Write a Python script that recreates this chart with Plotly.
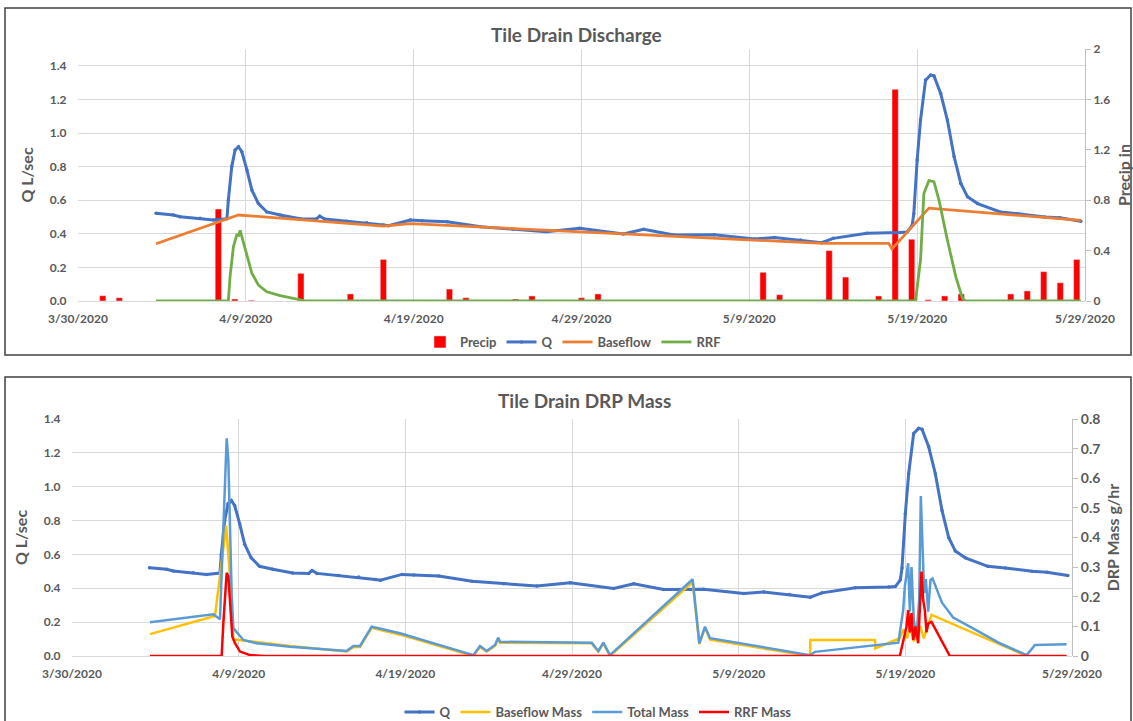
import plotly.graph_objects as go

W, H = 1133, 721

# ---------------- data ----------------
tick_dates = ["2020-03-30", "2020-04-09", "2020-04-19", "2020-04-29", "2020-05-09", "2020-05-19", "2020-05-29"]
tick_labels = ["3/30/2020", "4/9/2020", "4/19/2020", "4/29/2020", "5/9/2020", "5/19/2020", "5/29/2020"]

precip_dates = ["2020-03-31", "2020-04-01", "2020-04-07", "2020-04-08", "2020-04-09", "2020-04-12",
                "2020-04-15", "2020-04-17", "2020-04-21", "2020-04-22", "2020-04-25", "2020-04-26",
                "2020-04-29", "2020-04-30", "2020-05-10", "2020-05-11", "2020-05-14", "2020-05-15",
                "2020-05-17", "2020-05-18", "2020-05-19", "2020-05-20", "2020-05-21", "2020-05-22",
                "2020-05-25", "2020-05-26", "2020-05-27", "2020-05-28", "2020-05-29"]
precip_in = [0.042, 0.026, 0.73, 0.016, 0.006, 0.22,
             0.056, 0.33, 0.095, 0.026, 0.016, 0.04,
             0.026, 0.056, 0.228, 0.05, 0.40, 0.19,
             0.04, 1.68, 0.49, 0.01, 0.04, 0.056,
             0.056, 0.08, 0.233, 0.145, 0.33]

q_time = ["2020-04-03 15:36", "2020-04-04 16:20", "2020-04-05 02:00", "2020-04-06 06:30", "2020-04-07 01:40",
          "2020-04-07 21:00", "2020-04-07 23:00", "2020-04-08 03:50", "2020-04-08 08:40", "2020-04-08 13:30",
          "2020-04-08 18:15", "2020-04-09 01:30", "2020-04-09 08:40", "2020-04-09 18:00", "2020-04-10 06:00",
          "2020-04-11 01:12", "2020-04-12 05:46", "2020-04-13 04:48", "2020-04-13 09:36", "2020-04-13 16:48",
          "2020-04-15 00:00", "2020-04-16 04:48", "2020-04-17 04:48", "2020-04-17 12:00", "2020-04-18 19:12",
          "2020-04-19 12:00", "2020-04-21 00:00", "2020-04-23 00:00", "2020-04-24 21:36", "2020-04-26 21:36",
          "2020-04-28 21:36", "2020-05-01 12:00", "2020-05-02 16:48", "2020-05-04 12:00", "2020-05-06 21:36",
          "2020-05-09 07:12", "2020-05-10 12:00", "2020-05-12 01:12", "2020-05-13 07:12", "2020-05-14 00:00",
          "2020-05-16 00:00", "2020-05-18 00:00", "2020-05-18 09:36", "2020-05-18 16:48", "2020-05-18 19:12",
          "2020-05-19 00:00", "2020-05-19 04:48", "2020-05-19 12:00", "2020-05-19 19:12", "2020-05-20 00:00",
          "2020-05-20 09:36", "2020-05-20 19:12", "2020-05-21 04:48", "2020-05-21 14:24", "2020-05-22 00:00",
          "2020-05-22 14:24", "2020-05-23 22:48", "2020-05-25 00:00", "2020-05-26 14:24", "2020-05-27 12:00",
          "2020-05-28 18:00"]
q_lps = [0.522, 0.512, 0.502, 0.492, 0.482,
         0.49, 0.60, 0.80, 0.899, 0.918,
         0.889, 0.78, 0.66, 0.58, 0.53,
         0.512, 0.49, 0.488, 0.505, 0.488,
         0.475, 0.466, 0.452, 0.448, 0.482,
         0.478, 0.472, 0.442, 0.427, 0.413,
         0.433, 0.399, 0.427, 0.393, 0.395,
         0.369, 0.378, 0.363, 0.347, 0.373,
         0.403, 0.407, 0.41, 0.45, 0.52,
         0.84, 1.077, 1.315, 1.345, 1.34,
         1.236, 1.077, 0.86, 0.70, 0.62,
         0.58, 0.53, 0.52, 0.50, 0.495,
         0.475]

base_time = ["2020-04-03 15:36", "2020-04-08 13:30", "2020-04-17 04:48", "2020-04-18 19:12", "2020-05-13 09:36",
             "2020-05-17 07:12", "2020-05-17 12:00", "2020-05-19 16:48", "2020-05-28 18:00"]
base_lps = [0.341, 0.512, 0.446, 0.460, 0.343,
            0.343, 0.31, 0.553, 0.48]

rrf_time = ["2020-04-03 15:36", "2020-04-07 23:00", "2020-04-08 01:26", "2020-04-08 06:14", "2020-04-08 11:02",
            "2020-04-08 13:26", "2020-04-08 15:50", "2020-04-08 18:14", "2020-04-09 01:26", "2020-04-09 08:38",
            "2020-04-09 18:00", "2020-04-10 06:00", "2020-04-11 01:12", "2020-04-11 20:10", "2020-04-12 14:24",
            "2020-05-18 21:36", "2020-05-19 04:48", "2020-05-19 09:36", "2020-05-19 16:48", "2020-05-20 00:00",
            "2020-05-20 07:12", "2020-05-20 19:12", "2020-05-21 07:12", "2020-05-21 16:48", "2020-05-21 21:36",
            "2020-05-28 18:00"]
rrf_lps = [0, 0, 0.145, 0.323, 0.393,
           0.39, 0.42, 0.383, 0.264, 0.165,
           0.095, 0.055, 0.032, 0.016, 0,
           0, 0.244, 0.64, 0.716, 0.71,
           0.60, 0.363, 0.145, 0.016, 0,
           0]

total_time = ["2020-04-03 16:19", "2020-04-07 11:31", "2020-04-07 21:07", "2020-04-08 00:58", "2020-04-08 04:19",
              "2020-04-08 06:43", "2020-04-08 09:07", "2020-04-08 11:31", "2020-04-08 13:55", "2020-04-08 16:19",
              "2020-04-09 06:43", "2020-04-10 01:55", "2020-04-12 01:55", "2020-04-15 11:31", "2020-04-15 21:07",
              "2020-04-16 06:43", "2020-04-16 23:31", "2020-04-18 16:19", "2020-04-23 01:55", "2020-04-23 11:31",
              "2020-04-23 21:07", "2020-04-24 09:07", "2020-04-24 13:55", "2020-04-24 16:19", "2020-04-30 04:19",
              "2020-04-30 13:55", "2020-04-30 21:07", "2020-05-01 06:43", "2020-05-06 05:46", "2020-05-06 15:22",
              "2020-05-06 23:31", "2020-05-07 06:43", "2020-05-13 06:43", "2020-05-13 13:55", "2020-05-18 13:55",
              "2020-05-18 20:53", "2020-05-18 23:17", "2020-05-19 04:05", "2020-05-19 06:29", "2020-05-19 08:53",
              "2020-05-19 12:14", "2020-05-19 16:05", "2020-05-19 19:55", "2020-05-19 22:19", "2020-05-20 00:43",
              "2020-05-20 03:07", "2020-05-20 05:31", "2020-05-20 08:53", "2020-05-20 12:14", "2020-05-20 15:07",
              "2020-05-21 04:48", "2020-05-21 20:53", "2020-05-22 20:53", "2020-05-24 16:05", "2020-05-26 06:43",
              "2020-05-26 18:43", "2020-05-28 16:19"]
total_mass = [0.114, 0.141, 0.124, 0.358, 0.606,
              0.735, 0.662, 0.437, 0.212, 0.094,
              0.054, 0.043, 0.031, 0.017, 0.034,
              0.034, 0.099, 0.077, 0.003, 0.034,
              0.017, 0.037, 0.062, 0.048, 0.045,
              0.017, 0.045, 0.003, 0.259, 0.043,
              0.099, 0.06, 0.003, 0.014, 0.045,
              0.155, 0.235, 0.313, 0.15, 0.30,
              0.12, 0.065, 0.19, 0.54, 0.358,
              0.212, 0.26, 0.15, 0.257, 0.262,
              0.18, 0.13, 0.099, 0.043, 0.003,
              0.037, 0.04]

bmass_time = ["2020-04-03 16:19", "2020-04-07 13:55", "2020-04-08 06:00", "2020-04-08 11:31", "2020-04-08 16:19",
              "2020-04-10 01:55", "2020-04-12 01:55", "2020-04-15 11:31", "2020-04-15 21:07", "2020-04-16 06:43",
              "2020-04-16 23:31", "2020-04-18 16:19", "2020-04-23 01:55", "2020-04-23 11:31", "2020-04-23 21:07",
              "2020-04-24 09:07", "2020-04-24 13:55", "2020-04-24 16:19", "2020-04-30 04:19", "2020-04-30 13:55",
              "2020-04-30 21:07", "2020-05-01 06:43", "2020-05-06 05:46", "2020-05-06 15:22", "2020-05-06 23:31",
              "2020-05-07 06:43", "2020-05-13 06:43", "2020-05-13 07:12", "2020-05-17 04:19", "2020-05-17 04:48",
              "2020-05-18 16:05", "2020-05-18 21:36", "2020-05-19 02:24", "2020-05-19 07:12", "2020-05-19 12:00",
              "2020-05-19 16:48", "2020-05-19 21:36", "2020-05-20 02:24", "2020-05-20 07:12", "2020-05-20 13:55",
              "2020-05-26 06:43"]
base_mass = [0.074, 0.135, 0.44, 0.268, 0.056,
             0.046, 0.034, 0.015, 0.030, 0.030,
             0.095, 0.072, 0.0, 0.030, 0.015,
             0.034, 0.058, 0.045, 0.043, 0.015,
             0.043, 0.0, 0.25, 0.04, 0.095,
             0.055, 0.0, 0.054, 0.054, 0.026,
             0.06, 0.09, 0.06, 0.10, 0.05,
             0.08, 0.10, 0.06, 0.09, 0.139,
             0.0]

rmass_time = ["2020-04-03 16:19", "2020-04-07 23:31", "2020-04-08 01:55", "2020-04-08 04:19", "2020-04-08 06:43",
              "2020-04-08 09:07", "2020-04-08 11:31", "2020-04-08 14:53", "2020-04-08 18:43", "2020-04-09 01:55",
              "2020-04-09 16:19", "2020-04-10 12:00", "2020-05-18 16:05", "2020-05-18 20:53", "2020-05-19 01:41",
              "2020-05-19 04:05", "2020-05-19 06:29", "2020-05-19 08:53", "2020-05-19 11:17", "2020-05-19 14:24",
              "2020-05-19 18:29", "2020-05-19 20:53", "2020-05-19 23:17", "2020-05-20 01:41", "2020-05-20 04:05",
              "2020-05-20 06:29", "2020-05-20 08:53", "2020-05-20 13:41", "2020-05-21 16:05", "2020-05-28 16:19"]
rrf_mass = [0, 0, 0.11, 0.2, 0.281,
            0.27, 0.178, 0.065, 0.043, 0.015,
            0.003, 0, 0, 0.054, 0.099,
            0.155, 0.08, 0.145, 0.054, 0.10,
            0.043, 0.16, 0.285, 0.19, 0.155,
            0.08, 0.11, 0.115, 0, 0]

# ---------------- style ----------------
FONT = "Lato"
GREY = "#595959"
GRID = "#D9D9D9"
C_Q = "#4472C4"
C_BASE = "#ED7D31"
C_RRF = "#70AD47"
C_PRECIP = "#FF0000"
C_BMASS = "#FFC000"
C_TMASS = "#5B9BD5"
C_RMASS = "#FF0000"


def px_x(p):
    return p / W


def px_y(p):
    return 1 - p / H


top_dom_x = [px_x(78), px_x(1085)]
top_dom_y = [px_y(301), px_y(49)]
bot_dom_x = [px_x(72), px_x(1072)]
bot_dom_y = [px_y(656), px_y(419)]

fig = go.Figure()

# top chart
fig.add_trace(go.Bar(x=precip_dates, y=precip_in, name="Precip", marker_color=C_PRECIP,
                     xaxis="x", yaxis="y", legend="legend"))
fig.add_trace(go.Scatter(x=q_time, y=q_lps, name="Q", mode="lines+markers",
                         line=dict(color=C_Q, width=3), marker=dict(size=3.5, color=C_Q),
                         xaxis="x2", yaxis="y2", legend="legend"))
fig.add_trace(go.Scatter(x=base_time, y=base_lps, name="Baseflow", mode="lines",
                         line=dict(color=C_BASE, width=2.8),
                         xaxis="x2", yaxis="y2", legend="legend"))
fig.add_trace(go.Scatter(x=rrf_time, y=rrf_lps, name="RRF", mode="lines",
                         line=dict(color=C_RRF, width=2.8),
                         xaxis="x2", yaxis="y2", legend="legend"))

# bottom chart
fig.add_trace(go.Scatter(x=q_time, y=q_lps, name="Q", mode="lines+markers",
                         line=dict(color=C_Q, width=3), marker=dict(size=3.5, color=C_Q),
                         xaxis="x3", yaxis="y3", legend="legend2"))
fig.add_trace(go.Scatter(x=bmass_time, y=base_mass, name="Baseflow Mass", mode="lines",
                         line=dict(color=C_BMASS, width=2.5),
                         xaxis="x3", yaxis="y4", legend="legend2"))
fig.add_trace(go.Scatter(x=total_time, y=total_mass, name="Total Mass", mode="lines",
                         line=dict(color=C_TMASS, width=2.5),
                         xaxis="x3", yaxis="y4", legend="legend2"))
fig.add_trace(go.Scatter(x=rmass_time, y=rrf_mass, name="RRF Mass", mode="lines",
                         line=dict(color=C_RMASS, width=2.5),
                         xaxis="x3", yaxis="y4", legend="legend2"))

tickfont = dict(family=FONT, size=12, color=GREY, weight="bold")
titlefont = dict(family=FONT, size=16, color=GREY, weight="bold")
legfont = dict(family=FONT, size=13, color=GREY, weight="bold")

date_axis = dict(type="date", range=["2020-03-30", "2020-05-29"], tickvals=tick_dates, ticktext=tick_labels,
                 showgrid=True, gridcolor=GRID, gridwidth=1, zeroline=False, showline=False,
                 ticks="outside", ticklen=7, tickcolor="rgba(0,0,0,0)", tickfont=tickfont,
                 automargin=False, fixedrange=True)

fig.update_layout(
    width=W, height=H,
    margin=dict(l=0, r=0, t=0, b=0, pad=0, autoexpand=False),
    paper_bgcolor="white", plot_bgcolor="white",
    bargap=0.62,
    showlegend=True,
    xaxis=dict(domain=top_dom_x, anchor="y", type="date", automargin=False,
               range=["2020-03-29 12:00", "2020-05-29 12:00"], visible=False, showgrid=False),
    yaxis=dict(domain=top_dom_y, anchor="x", side="right", range=[0, 2], dtick=0.4, tick0=0,
               showgrid=False, zeroline=False, showline=True, linecolor="#BFBFBF", linewidth=1,
               ticks="outside", ticklen=5, tickcolor="#BFBFBF", tickfont=tickfont, automargin=False,
               title=dict(text="Precip in", font=titlefont, standoff=10)),
    xaxis2=dict(overlaying="x", anchor="y2", **date_axis),
    yaxis2=dict(overlaying="y", anchor="x2", side="left", range=[0, 1.5], dtick=0.2, tick0=0,
                tickformat=".1f", showgrid=True, gridcolor=GRID, zeroline=True, zerolinecolor=GRID,
                zerolinewidth=1, showline=False, ticks="outside", ticklen=8, tickcolor="rgba(0,0,0,0)",
                tickfont=tickfont, automargin=False,
                title=dict(text="Q L/sec", font=titlefont, standoff=12)),
    xaxis3=dict(domain=bot_dom_x, anchor="y3", **date_axis),
    yaxis3=dict(domain=bot_dom_y, anchor="x3", side="left", range=[0, 1.4001], dtick=0.2, tick0=0,
                tickformat=".1f", showgrid=True, gridcolor=GRID, zeroline=True, zerolinecolor=GRID,
                zerolinewidth=1, showline=False, ticks="outside", ticklen=8, tickcolor="rgba(0,0,0,0)",
                tickfont=tickfont, automargin=False,
                title=dict(text="Q L/sec", font=titlefont, standoff=12)),
    yaxis4=dict(overlaying="y3", anchor="x3", side="right", range=[0, 0.8001], dtick=0.1, tick0=0,
                showgrid=False, zeroline=False, showline=True, linecolor="#BFBFBF", linewidth=1,
                ticks="outside", ticklen=5, tickcolor="#BFBFBF", automargin=False,
                tickfont=dict(family=FONT, size=14, color=GREY, weight="bold"),
                title=dict(text="DRP Mass g/hr", font=titlefont, standoff=8)),
    legend=dict(orientation="h", x=px_x(573), xanchor="center", y=px_y(342), yanchor="middle",
                font=legfont, itemwidth=30, bgcolor="rgba(0,0,0,0)", traceorder="normal"),
    legend2=dict(orientation="h", x=px_x(598), xanchor="center", y=px_y(712), yanchor="middle",
                 font=legfont, itemwidth=30, bgcolor="rgba(0,0,0,0)", traceorder="normal"),
    annotations=[
        dict(text="Tile Drain Discharge", x=px_x(577), y=px_y(35), xref="paper", yref="paper",
             showarrow=False, xanchor="center", yanchor="middle",
             font=dict(family=FONT, size=19, color=GREY, weight="bold")),
        dict(text="Tile Drain DRP Mass", x=px_x(584), y=px_y(400), xref="paper", yref="paper",
             showarrow=False, xanchor="center", yanchor="middle",
             font=dict(family=FONT, size=19, color=GREY, weight="bold")),
    ],
    shapes=[
        dict(type="rect", xref="paper", yref="paper", x0=px_x(5), x1=px_x(1131), y0=px_y(355), y1=px_y(8),
             line=dict(color="#404040", width=1.5), fillcolor="rgba(0,0,0,0)", layer="above"),
        dict(type="rect", xref="paper", yref="paper", x0=px_x(5), x1=px_x(1131), y0=px_y(740), y1=px_y(377),
             line=dict(color="#404040", width=1.5), fillcolor="rgba(0,0,0,0)", layer="above"),
    ],
)

fig.write_html("out.html", config={"displayModeBar": False},
               post_script="document.body.style.margin='0';document.body.style.overflow='hidden';")
